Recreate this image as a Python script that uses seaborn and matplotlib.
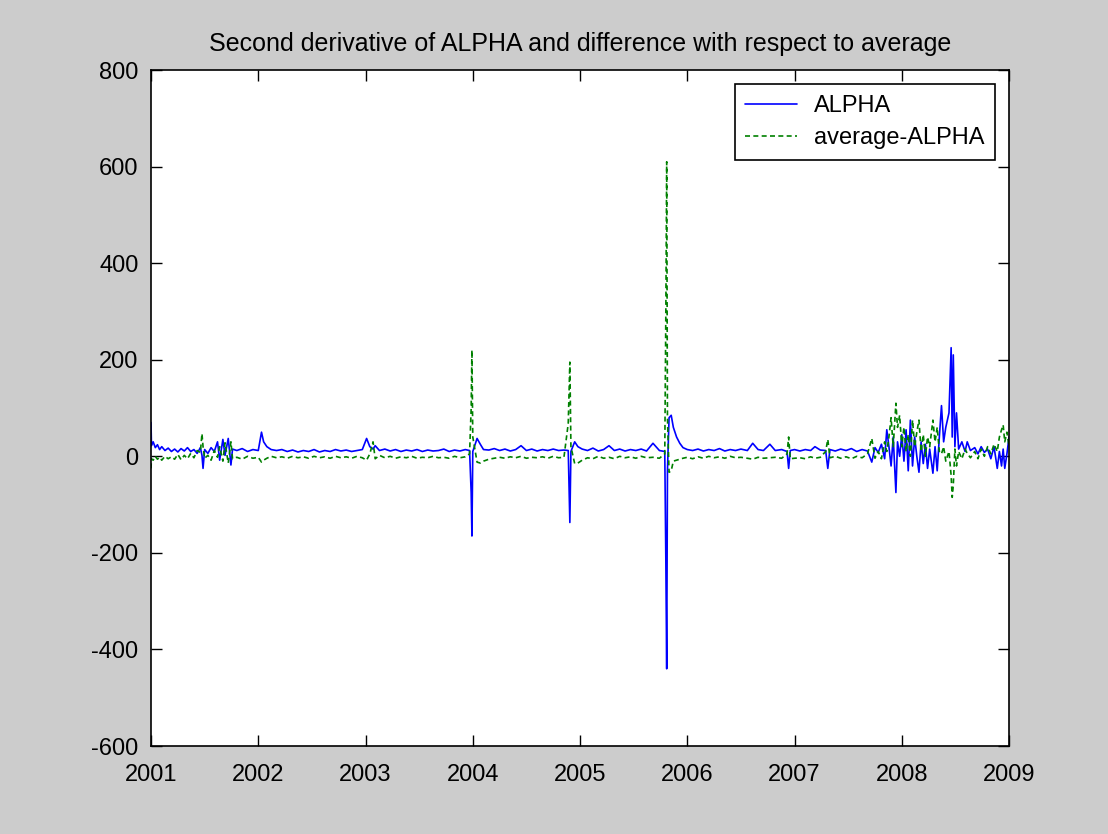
import pandas as pd
import seaborn as sns
import matplotlib
matplotlib.use("Agg")
import matplotlib.pyplot as plt

# time axis in decimal years
years = [
    2001.000, 2001.004, 2001.020, 2001.040, 2001.060, 2001.080, 2001.100, 2001.130,
    2001.160, 2001.190, 2001.220, 2001.250, 2001.280, 2001.310, 2001.340, 2001.370,
    2001.400, 2001.430, 2001.460, 2001.475, 2001.485, 2001.500, 2001.530, 2001.560,
    2001.590, 2001.620, 2001.640, 2001.670, 2001.690, 2001.720, 2001.745, 2001.760,
    2001.800, 2001.850, 2001.900, 2001.950, 2002.000, 2002.030, 2002.050, 2002.080,
    2002.120, 2002.170, 2002.220, 2002.270, 2002.320, 2002.370, 2002.420, 2002.470,
    2002.520, 2002.570, 2002.620, 2002.670, 2002.720, 2002.770, 2002.820, 2002.870,
    2002.920, 2002.970, 2003.010, 2003.040, 2003.070, 2003.090, 2003.130, 2003.180,
    2003.230, 2003.280, 2003.330, 2003.380, 2003.430, 2003.480, 2003.530, 2003.580,
    2003.630, 2003.680, 2003.730, 2003.780, 2003.830, 2003.880, 2003.930, 2003.970,
    2003.985, 2003.992, 2004.000, 2004.040, 2004.070, 2004.100, 2004.150, 2004.200,
    2004.250, 2004.300, 2004.350, 2004.400, 2004.450, 2004.500, 2004.550, 2004.600,
    2004.650, 2004.700, 2004.750, 2004.800, 2004.850, 2004.890, 2004.905, 2004.915,
    2004.950, 2004.980, 2005.020, 2005.070, 2005.120, 2005.170, 2005.220, 2005.270,
    2005.320, 2005.370, 2005.420, 2005.470, 2005.520, 2005.570, 2005.620, 2005.680,
    2005.740, 2005.790, 2005.800, 2005.808, 2005.815, 2005.830, 2005.850, 2005.870,
    2005.900, 2005.930, 2005.960, 2006.000, 2006.050, 2006.100, 2006.150, 2006.200,
    2006.250, 2006.300, 2006.350, 2006.400, 2006.450, 2006.500, 2006.560, 2006.610,
    2006.660, 2006.710, 2006.770, 2006.820, 2006.880, 2006.930, 2006.945, 2006.960,
    2007.000, 2007.050, 2007.100, 2007.150, 2007.190, 2007.240, 2007.290, 2007.310,
    2007.330, 2007.380, 2007.430, 2007.480, 2007.530, 2007.580, 2007.630, 2007.680,
    2007.720, 2007.750, 2007.780, 2007.810, 2007.840, 2007.860, 2007.880, 2007.900,
    2007.920, 2007.945, 2007.960, 2007.980, 2008.000, 2008.020, 2008.040, 2008.060,
    2008.080, 2008.100, 2008.120, 2008.140, 2008.160, 2008.180, 2008.200, 2008.220,
    2008.240, 2008.260, 2008.290, 2008.310, 2008.330, 2008.350, 2008.370, 2008.390,
    2008.410, 2008.440, 2008.460, 2008.470, 2008.480, 2008.495, 2008.510, 2008.530,
    2008.560, 2008.590, 2008.610, 2008.640, 2008.680, 2008.710, 2008.740, 2008.770,
    2008.800, 2008.830, 2008.860, 2008.890, 2008.910, 2008.930, 2008.945, 2008.960,
    2008.980, 2009.000,
]

alpha = [
    70, 22, 30, 18, 24, 14, 20, 12,
    17, 10, 15, 9, 16, 11, 18, 10,
    14, 6, 18, 2, -25, 14, 6, 18,
    10, 30, -8, 35, 2, 37, -18, 15,
    12, 16, 10, 14, 12, 50, 30, 20,
    14, 12, 14, 10, 13, 9, 12, 10,
    14, 9, 12, 10, 14, 11, 13, 10,
    12, 14, 37, 20, 15, 22, 12, 15,
    11, 14, 10, 13, 11, 14, 10, 13,
    11, 12, 15, 10, 13, 11, 14, 12,
    -75, -165, 10, 37, 25, 14, 13, 16,
    12, 15, 11, 14, 22, 12, 15, 11,
    14, 12, 15, 12, 13, 12, -137, 10,
    30, 20, 15, 12, 17, 11, 14, 22,
    12, 15, 11, 14, 12, 15, 11, 27,
    12, 10, -215, -440, -30, 80, 85, 60,
    40, 27, 18, 14, 12, 15, 11, 14,
    12, 16, 11, 14, 12, 15, 12, 27,
    14, 12, 25, 12, 14, 10, -25, 12,
    14, 11, 14, 12, 20, 13, 12, -25,
    14, 11, 15, 12, 16, 10, 14, 11,
    -12, 18, 8, 25, -5, 55, 20, -20,
    40, -75, 30, 0, 45, -10, 55, -30,
    75, -20, 40, 0, -33, 30, -15, 25,
    -25, 15, -35, 20, -30, 40, 105, 30,
    60, 90, 225, 40, 210, 20, 90, 15,
    30, 10, 30, 12, 18, 5, 20, 8,
    15, -5, 20, -25, 10, -20, 15, -25,
    5, 40,
]

avg_minus_alpha = [
    -25, -5, -8, 0, -6, -2, -8, 0,
    -5, -1, -6, 4, -7, 2, -5, 6,
    -3, 12, 8, 47, 20, -4, 2, -8,
    12, -2, 20, -10, 28, -14, 30, -5,
    -2, -6, 0, -4, -2, -12, -8, -4,
    0, -3, -1, -4, 0, -3, -1, -4,
    0, -3, -1, -4, 0, -3, -1, -4,
    0, -3, -8, 5, 30, -5, 2, -3,
    0, -4, -1, -3, 0, -4, -2, -3,
    0, -3, -2, -4, 0, -3, -1, 5,
    100, 220, 40, -12, -14, -10, -6, -4,
    -2, -4, -1, -3, 0, -4, -2, -3,
    -1, -4, 0, -3, -2, 68, 195, 20,
    -15, -14, -8, -3, -5, 0, -4, -2,
    -5, 0, -3, -1, -4, 0, -3, -2,
    -4, 5, 300, 610, 80, -33, -30, -10,
    -8, -6, -4, -2, -5, -1, -4, 0,
    -3, -1, -4, 0, -3, -2, -4, -6,
    -2, -4, -3, -2, -4, 5, 40, -5,
    -4, -3, -5, -1, -4, -2, 10, 35,
    -3, 0, -4, -1, -5, 0, -3, 5,
    37, -4, 10, -5, 30, 10, 40, 80,
    20, 110, 60, 85, 20, 60, 10, 45,
    0, 75, 20, 50, 75, 10, 45, 0,
    40, 20, 75, 30, 60, 10, 5, 20,
    -10, 10, -40, -85, -60, 15, -20, 10,
    -5, 15, 6, -3, 10, -5, 15, 0,
    20, 5, 25, 10, 40, 55, 65, 30,
    50, 20,
]

series_names = ["ALPHA", "average-ALPHA"]
year_ticks = [2001, 2002, 2003, 2004, 2005, 2006, 2007, 2008, 2009]
value_ticks = [-600, -400, -200, 0, 200, 400, 600, 800]

df = pd.DataFrame({
    "year": years + years,
    "value": alpha + avg_minus_alpha,
    "series": [series_names[0]] * len(years) + [series_names[1]] * len(years),
})

sns.set_style("ticks")
plt.rcParams["font.family"] = ["Liberation Sans", "DejaVu Sans"]
plt.rcParams["axes.unicode_minus"] = False
plt.rcParams["text.color"] = "black"

fig = plt.figure(figsize=(11.08, 8.34), dpi=100, facecolor="#cccccc")
ax = fig.add_axes([0.1363, 0.1055, 0.7744, 0.8105])
ax.set_facecolor("white")

sns.lineplot(data=df, x="year", y="value", hue="series", style="series",
             palette={"ALPHA": "#0000ff", "average-ALPHA": "#008000"},
             dashes={"ALPHA": "", "average-ALPHA": (3, 2)},
             estimator=None, sort=False, linewidth=1.2, ax=ax)

ax.set_xlim(2001, 2009)
ax.set_ylim(-600, 800)
ax.set_xticks(year_ticks)
ax.set_yticks(value_ticks)
ax.set_xticklabels([str(y) for y in year_ticks])
ax.set_xlabel("")
ax.set_ylabel("")
ax.tick_params(direction="in", length=8, width=1, labelsize=17, top=True, right=True,
               colors="black", pad=9)
ax.tick_params(axis="x", pad=13)
for s in ax.spines.values():
    s.set_visible(True)
    s.set_linewidth(1.2)
    s.set_color("black")

ax.set_title("Second derivative of ALPHA and difference with respect to average",
             fontsize=18, pad=14, color="black")

leg = ax.legend(loc="upper right", fontsize=17, frameon=True, fancybox=False,
                edgecolor="black", framealpha=1, handlelength=2.2,
                handletextpad=0.7, borderaxespad=0.6, borderpad=0.45,
                labelspacing=0.45)
leg.get_frame().set_linewidth(1.2)
for t in leg.get_texts():
    t.set_color("black")

fig.savefig("out.png", dpi=100, facecolor=fig.get_facecolor())
